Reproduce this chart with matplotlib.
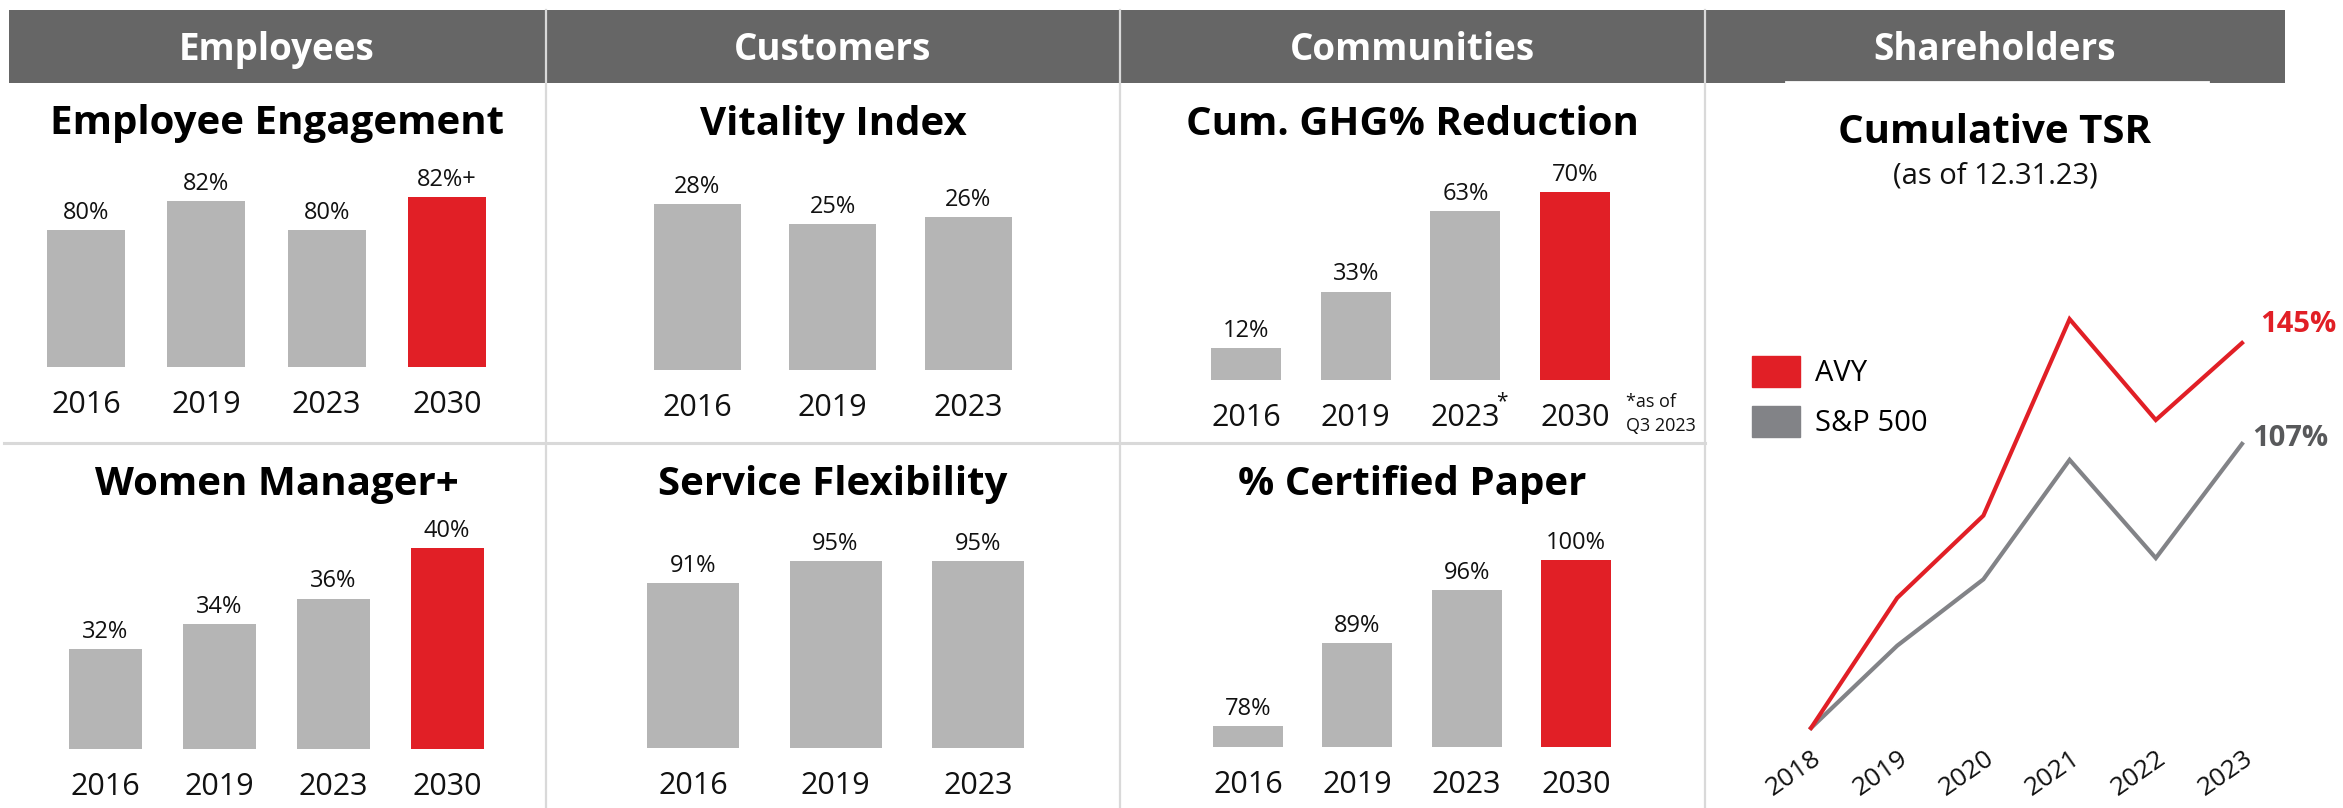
import matplotlib.pyplot as plt
from matplotlib.patches import Rectangle, Patch
from matplotlib.lines import Line2D
import matplotlib.transforms as mtransforms

plt.rcParams['font.family'] = ['Open Sans', 'DejaVu Sans']

W, H = 2343, 808

headers = ['Employees', 'Customers', 'Communities', 'Shareholders']

ee_years = ['2016', '2019', '2023', '2030']
ee_values = [80, 82, 80, 82.3]
ee_labels = ['80%', '82%', '80%', '82%+']

vi_years = ['2016', '2019', '2023']
vi_values = [28, 25, 26]
vi_labels = ['28%', '25%', '26%']

ghg_years = ['2016', '2019', '2023', '2030']
ghg_values = [12, 33, 63, 70]
ghg_labels = ['12%', '33%', '63%', '70%']

wm_years = ['2016', '2019', '2023', '2030']
wm_values = [32, 34, 36, 40]
wm_labels = ['32%', '34%', '36%', '40%']

sf_years = ['2016', '2019', '2023']
sf_values = [91, 95, 95]
sf_labels = ['91%', '95%', '95%']

cp_years = ['2016', '2019', '2023', '2030']
cp_values = [78, 89, 96, 100]
cp_labels = ['78%', '89%', '96%', '100%']

tsr_years = [2018, 2019, 2020, 2021, 2022, 2023]
avy_tsr = [0, 49, 80, 154, 116, 145]
sp_tsr = [0, 31, 56, 101, 64, 107]

BAR_GRAY = '#b5b5b5'
RED = '#e11f26'
HEADER_GRAY = '#666666'
RULE = '#d9d9d9'
LINE_GRAY = '#828387'
TEXT = '#111111'

fig = plt.figure(figsize=(W / 100, H / 100), dpi=100)


def fx(x):
    return x / W


def fy(y):
    return 1 - y / H


# header band and grid rules
fig.add_artist(Rectangle((fx(9), fy(83)), fx(2285 - 9), (83 - 10) / H,
                         transform=fig.transFigure, color=HEADER_GRAY, lw=0))
fig.add_artist(Line2D([fx(1786), fx(2208)], [fy(82), fy(82)],
                      transform=fig.transFigure, color='white', lw=2))
col_centers = [277, 833, 1412, 1995]
for name, cx in zip(headers, col_centers):
    fig.text(fx(cx), fy(60), name, ha='center', va='baseline', color='white',
             fontsize=26.5, fontweight='bold')
for xd in [546, 1120, 1705]:
    fig.add_artist(Line2D([fx(xd), fx(xd)], [fy(10), 0], transform=fig.transFigure,
                          color=RULE, lw=1.6))
fig.add_artist(Line2D([fx(4), fx(1705)], [fy(443), fy(443)], transform=fig.transFigure,
                      color=RULE, lw=2.2))


def bar_panel(title, cx, title_y, years, values, labels, first, step, bar_w,
              bottom, base, ppu, red_last=True):
    n = len(values)
    ax_h = 320
    ax = fig.add_axes([fx(first - step / 2), fy(bottom), step * n / W, ax_h / H])
    colors = [BAR_GRAY] * n
    if red_last:
        colors[-1] = RED
    ax.bar(range(n), values, width=bar_w / step, color=colors)
    ax.set_xlim(-0.5, n - 0.5)
    ax.set_ylim(base, base + ax_h / ppu)
    for i, (v, lab) in enumerate(zip(values, labels)):
        ax.annotate(lab, (i, v), xytext=(0, 8), textcoords='offset points',
                    ha='center', va='baseline', fontsize=17, color=TEXT)
    ax.set_xticks(range(n), years)
    ax.tick_params(axis='x', length=0, pad=33, labelsize=22, labelcolor=TEXT)
    for t in ax.get_xticklabels():
        t.set_va('baseline')
    ax.set_yticks([])
    for s in ax.spines.values():
        s.set_visible(False)
    ax.patch.set_alpha(0)
    fig.text(fx(cx), fy(title_y), title, ha='center', va='baseline',
             fontsize=29, fontweight='bold', color='black')
    return ax


bar_panel('Employee Engagement', 277, 134, ee_years, ee_values, ee_labels,
          86, 120.3, 78, 367, 70.55, 14.5)
bar_panel('Vitality Index', 833, 135, vi_years, vi_values, vi_labels,
          697, 135.5, 87, 370, 3.1, 6.67, red_last=False)
ghg_ax = bar_panel('Cum. GHG% Reduction', 1412, 135, ghg_years, ghg_values, ghg_labels,
                   1246, 109.7, 70, 380, 0, 2.68)
bar_panel('Women Manager+', 277, 495, wm_years, wm_values, wm_labels,
          105, 114, 73, 749, 24.06, 12.6)
bar_panel('Service Flexibility', 833, 495, sf_years, sf_values, sf_labels,
          693, 142.5, 92, 748, 61, 5.5, red_last=False)
bar_panel('% Certified Paper', 1412, 495, cp_years, cp_values, cp_labels,
          1248, 109.3, 70, 747, 75.2, 7.55)

# footnote marker on the 2023 GHG label
ghg_ax.annotate('*', (2, 0), xycoords=('data', 'axes fraction'), xytext=(22, -8),
                textcoords='offset points', ha='left', va='top', fontsize=15,
                color=TEXT, annotation_clip=False)
fig.text(fx(1626), fy(407), '*as of', ha='left', va='baseline', fontsize=13, color=TEXT)
fig.text(fx(1626), fy(431), 'Q3 2023', ha='left', va='baseline', fontsize=13, color=TEXT)

# shareholders: cumulative TSR
fig.text(fx(1995), fy(143), 'Cumulative TSR', ha='center', va='baseline',
         fontsize=29, fontweight='bold', color='black')
fig.text(fx(1995), fy(183), '(as of 12.31.23)', ha='center', va='baseline',
         fontsize=21, color=TEXT)

ax = fig.add_axes([fx(1811), fy(728), (2242 - 1811) / W, (728 - 343) / H])
ax.plot(tsr_years, sp_tsr, color=LINE_GRAY, lw=3, clip_on=False, solid_joinstyle='miter')
ax.plot(tsr_years, avy_tsr, color=RED, lw=3, clip_on=False, solid_joinstyle='miter')
ax.set_xlim(2018, 2023)
ax.set_ylim(0, 145)
ax.annotate(f'{avy_tsr[-1]}%', (tsr_years[-1], avy_tsr[-1]), xytext=(13, 13),
            textcoords='offset points', ha='left', va='center', fontsize=21,
            fontweight='bold', color=RED, annotation_clip=False)
ax.annotate(f'{sp_tsr[-1]}%', (tsr_years[-1], sp_tsr[-1]), xytext=(7, 4),
            textcoords='offset points', ha='left', va='center', fontsize=21,
            fontweight='bold', color='#58595b', annotation_clip=False)
ax.set_xticks(tsr_years, [str(y) for y in tsr_years])
ax.tick_params(axis='x', length=0, pad=20, labelsize=19, labelcolor=TEXT)
shift = mtransforms.ScaledTranslation(8 / 100, 0, fig.dpi_scale_trans)
for t in ax.get_xticklabels():
    t.set_rotation(35)
    t.set_ha('right')
    t.set_va('center')
    t.set_rotation_mode('anchor')
    t.set_transform(t.get_transform() + shift)
ax.set_yticks([])
for s in ax.spines.values():
    s.set_visible(False)
ax.patch.set_alpha(0)

handles = [Patch(color=RED, label='AVY'), Patch(color=LINE_GRAY, label='S&P 500')]
fig.legend(handles=handles, loc='upper left', bbox_to_anchor=(fx(1752), fy(356)),
           frameon=False, fontsize=21, handlelength=1.65, handleheight=1.24,
           handletextpad=0.5, labelspacing=0.62, borderpad=0, borderaxespad=0)

fig.savefig('out.png', dpi=100)
